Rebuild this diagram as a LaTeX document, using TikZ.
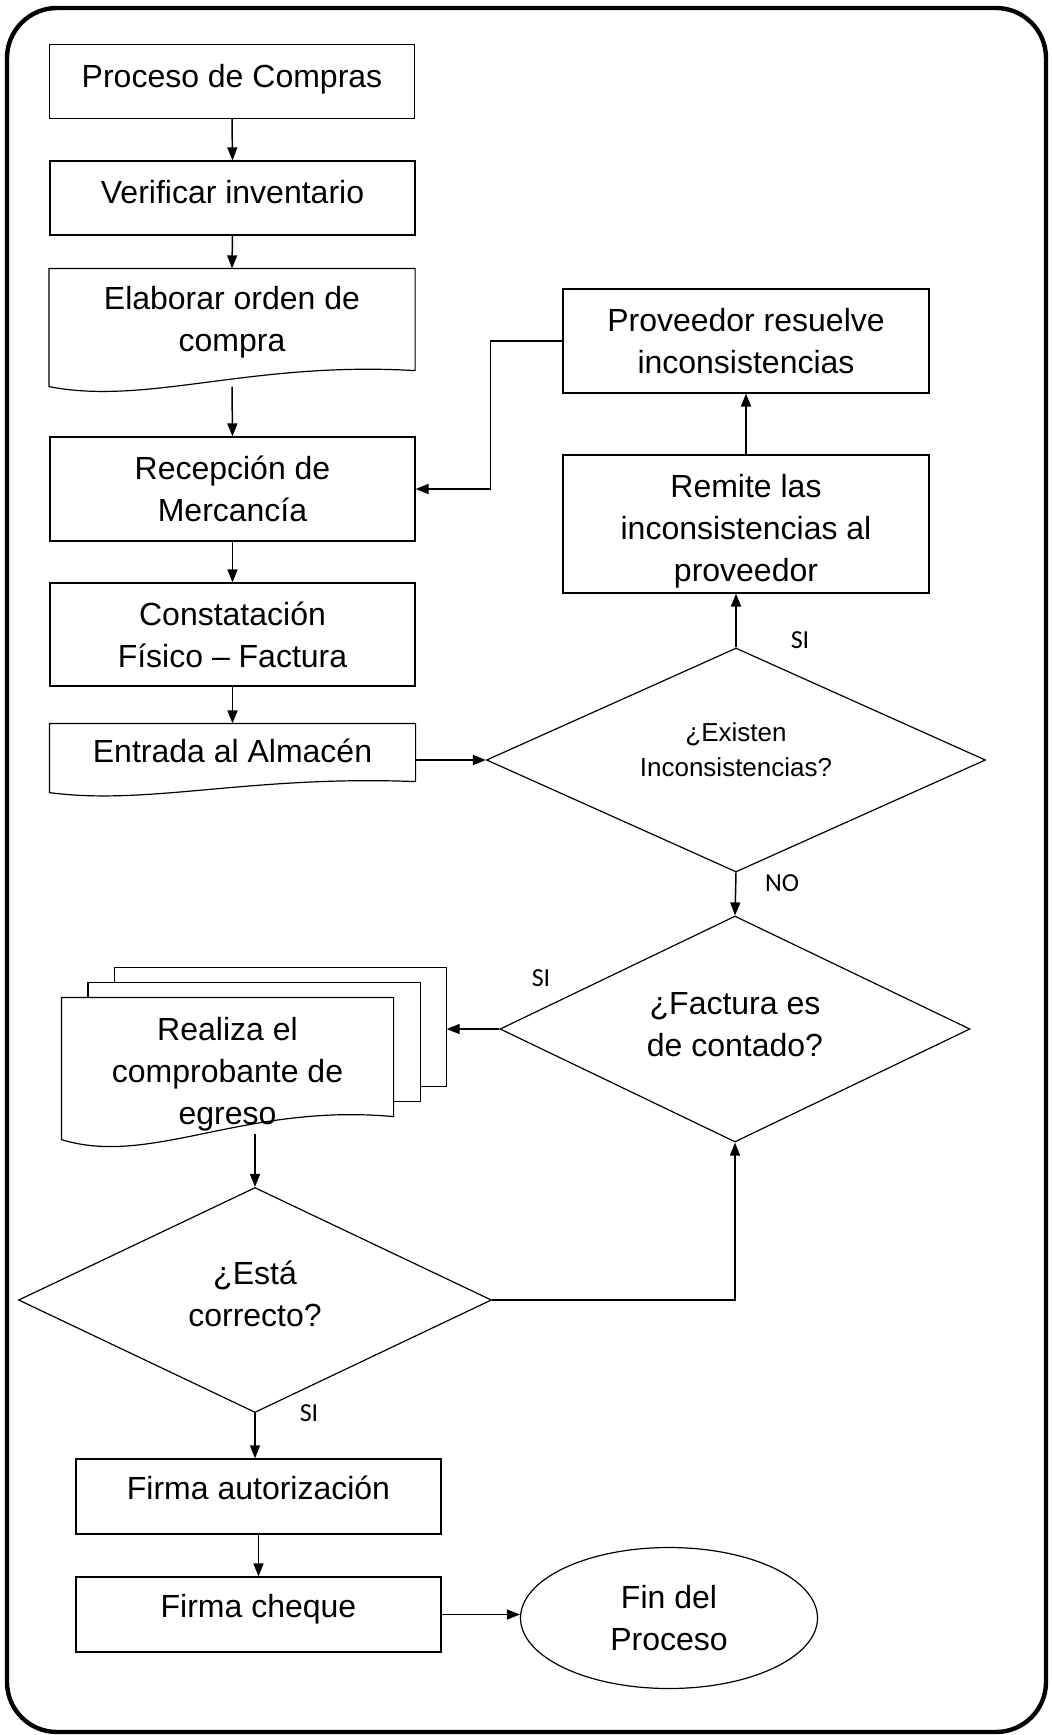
\documentclass[tikz,border=0pt]{standalone}
\usepackage{fontspec}
\setmainfont{Liberation Sans}
\newfontfamily\calibri{Carlito}
\usetikzlibrary{shapes.geometric,arrows.meta,calc}
\pgfdeclarelayer{background}
\pgfsetlayers{background,main}

\tikzset{
  box/.style={draw,line width=0.6pt,minimum width=182.5pt,minimum height=37pt,
    align=center,inner sep=0pt,font=\fontsize{16}{21}\selectfont},
  docbox/.style={box,draw=none},
  up/.style={text depth=#1},
  decision/.style={diamond,draw,line width=0.6pt,aspect=2,align=center,inner sep=0pt,
    font=\fontsize{16}{21}\selectfont},
  arr/.style={-{Triangle[length=6.5pt,width=5pt]},line width=0.75pt},
  lab/.style={font=\calibri\fontsize{13}{15}\selectfont,inner sep=0pt}
}

\begin{document}
\begin{tikzpicture}[x=0.5pt,y=-0.5pt]
  \useasboundingbox (0,0) rectangle (1051,1735);
  \draw[line width=2.2pt,rounded corners=25pt] (7,8) rectangle (1046,1732);

  % left column
  \node[box,up=6pt] (proc) at (232,81.5) {Proceso de Compras};
  \node[box,up=6pt] (verif) at (232.5,198) {Verificar inventario};
  \node[docbox,minimum height=58.5pt,up=9pt] (elab) at (232,327.5) {Elaborar orden de\\compra};
  \node[box,minimum height=52pt] (recep) at (232.5,489) {Recepción de\\Mercancía};
  \node[box,minimum height=51.5pt] (const) at (232.5,634.5) {Constatación\\Físico – Factura};
  \node[docbox,minimum height=34pt,up=7pt] (entrada) at (232.5,758) {Entrada al Almacén};

  % right column
  \node[decision,minimum width=249.5pt,minimum height=112pt,up=10pt,
    font=\fontsize{13}{17.5}\selectfont] (d1) at (736,760) {¿Existen\\Inconsistencias?};
  \node[box,minimum width=183pt,minimum height=69pt,text height=57.7pt,up=0pt]
    (remite) at (746,524) {Remite las\\inconsistencias al\\proveedor};
  \node[box,minimum width=183pt,minimum height=52pt] (prov) at (746,341)
    {Proveedor resuelve\\inconsistencias};
  \node[decision,minimum width=235pt,minimum height=113pt,up=4.5pt] (d2) at (735,1029)
    {¿Factura es\\de contado?};

  % payment
  \node[docbox,minimum width=165.5pt,minimum height=70.5pt,text height=56pt,up=0pt]
    (egreso) at (227.5,1068.5) {Realiza el\\comprobante de\\egreso};
  \coordinate (egback) at ($(egreso.east)+(53,0)$);
  \node[decision,minimum width=236.5pt,minimum height=112.5pt,up=6pt] (d3) at (255,1300)
    {¿Está\\correcto?};
  \node[box,minimum height=37.5pt,up=9pt] (firma) at (258.5,1496.5) {Firma autorización};
  \node[box,minimum height=37.5pt,up=9pt] (cheque) at (258.5,1614.5) {Firma cheque};
  \node[ellipse,draw,line width=0.6pt,minimum width=148.5pt,minimum height=70.5pt,
    align=center,inner sep=0pt,font=\fontsize{16}{21}\selectfont] (fin) at (669,1618)
    {Fin del\\Proceso};

  % document outlines
  \begin{pgfonlayer}{background}
    \foreach \s in {2,1}
      \draw[line width=0.6pt,fill=white] ($(egreso.north west)+(26.5*\s,-15*\s)$)
        rectangle ($(egreso.south east)+(26.5*\s,-23-15*\s)$);
    \foreach \n/\d in {elab/16,entrada/11,egreso/23}
      \draw[line width=0.6pt,fill=white] (\n.north west) -- (\n.north east)
        -- ($(\n.south east)+(0,-\d)$)
        .. controls ($(\n.south east)!0.45!(\n.south west)+(0,-1.6*\d)$)
        and ($(\n.south west)!0.27!(\n.south east)+(0,1.2*\d)$) .. (\n.south west)
        -- cycle;
  \end{pgfonlayer}

  % labels
  \node[lab] (si1) at (800,640) {SI};
  \node[lab] (no1) at (782,883) {NO};
  \node[lab] (si2) at (541,978) {SI};
  \node[lab] (si3) at (309,1413) {SI};

  % connectors
  \draw[arr] (proc.south) -- (verif.north);
  \draw[arr] (verif.south) -- (elab.north);
  \draw[arr] (elab.south) -- (recep.north);
  \draw[arr] (recep.south) -- (const.north);
  \draw[arr] (const.south) -- (entrada.north);
  \draw[arr] (entrada.east |- d1.west) -- (d1.west);
  \draw[arr] (d1.north) -- (d1.north |- remite.south);
  \draw[arr] (remite.north) -- (prov.south);
  \draw[arr] (prov.west) -- ++(-72,0) |- (recep.east);
  \draw[arr] (d1.south) -- (d2.north);
  \draw[arr] (d2.west) -- (d2.west -| egback);
  \draw[arr] ($(egreso.south -| d3.north)+(0,-6)$) -- (d3.north);
  \draw[arr] (d3.east) -| (d2.south);
  \draw[arr] (d3.south) -- (d3.south |- firma.north);
  \draw[arr] (firma.south) -- (cheque.north);
  \draw[arr] (cheque.east) -- (cheque.east -| fin.west);
\end{tikzpicture}
\end{document}
